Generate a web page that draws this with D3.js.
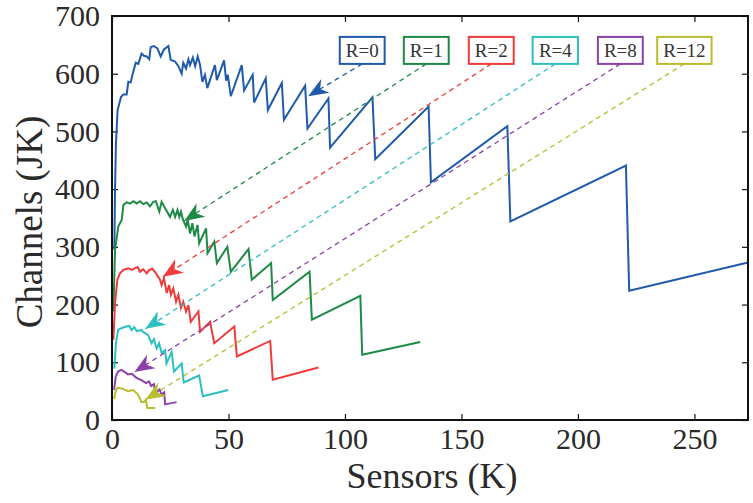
<!DOCTYPE html>
<html>
<head>
<meta charset="utf-8">
<script src="https://cdn.jsdelivr.net/npm/d3@7"></script>
<style>
  body { margin: 0; background: #fff; }
  svg { display: block; }
  .tick text { font-family: "Liberation Serif", serif; }
</style>
</head>
<body>
<script>
// 数据：每条曲线的 x (K) 与 y (JK)
var blueX = [1.0,1.3,1.7,2.4,3.9,4.9,6.3,7.0,8.0,8.9,10.2,11.3,12.7,13.7,14.9,16.0,16.6,18.0,19.5,20.9,22.3,24.2,25.2,27.1,28.5,29.9,30.6,31.8,32.8,33.5,34.7,35.7,36.8,37.8,38.8,39.9,40.9,44.2,45.0,48.1,49.0,49.7,51.0,55.7,56.7,60.4,61.0,66.0,66.9,72.9,73.8,82.9,83.9,92.9,93.6,111.8,113.0,135.9,136.9,169.7,171.0,220.6,222.0,273];
var blueY = [295,400,480,537,560,564,564,586,585,600,619,617,635,631,630,625,646,648,644,630,642,648,624,621,613,600,619,609,625,615,628,613,630,615,586,598,575,615,589,623,588,598,561,615,571,598,550,592,537,584,520,579,505,557,472,559,452,543,412,509,344,441,224,273];
var greenX = [0.6,1.3,2.7,4.2,4.9,6.3,7.7,9.2,10.6,12,13.5,14.9,16.3,17.7,18.8,20.3,21.3,22.8,24.9,26.1,27.1,28.1,28.9,29.6,30.4,31.8,32.5,33.5,34.5,35.4,36.7,37.4,40.4,41,43.9,45,49.5,51,58.6,60,68.3,69,84.8,85.8,106.6,107.4,132.3];
var greenY = [188,295,335,347,373,377,375,379,375,379,374,377,370,378,379,361,378,367,352,364,352,364,352,361,348,335,347,323,341,318,338,306,332,289,309,272,300,257,296,243,272,208,257,174,215,113,135];
var redX = [0.6,1.3,2.3,3.4,4.9,7,8.5,9.9,11,12,13.4,14.9,16,17.3,18.9,20.6,21.3,22.3,23.5,24.5,25.3,26.3,27.5,28.5,29.6,30.6,31.8,32.8,33.8,37.1,37.8,42.1,43.9,52.5,53.6,67.9,69,88.6];
var redY = [139,202,243,254,260,263,260,263,265,257,261,254,260,262,254,243,234,246,220,234,217,228,205,217,194,205,188,199,170,188,153,170,133,162,110,137,70,91];
var cyanX = [1.0,1.7,2.6,4.0,6.1,7.4,8.4,9.5,10.6,12.6,13.2,15.5,17,18,19.2,20.2,21.3,22.8,23.4,25.6,26.6,29.9,30.8,37.4,39.0,49.9];
var cyanY = [89,133,156,159,162,163,156,161,154,156,153,147,133,140,124,133,116,121,98,118,84,98,65,77,41,52];
var purpleX = [0.9,1.6,2.6,4.0,5.5,6.9,8.5,10.5,12.6,14.7,15.9,16.8,18.0,18.6,20.4,21.3,22.4,22.8,27.7];
var purpleY = [52,75,84,87,83,79,80,73,69,64,67,59,62,46,53,44,48,27,31];
var yellowX = [0.9,1.6,2.4,4.7,6.9,9.0,11.2,12.6,13.7,14.5,15.2,18.6];
var yellowY = [36,50,56,54,50,52,44,31,31,35,21,21];

var seriesNames = ["R=0","R=1","R=2","R=4","R=8","R=12"];
var seriesColors = ["#1f5aab","#1d8a45","#ef3b3b","#2ebfbf","#8b42a8","#b7bd2e"];
// 注释箭头：起点 (图例框下方) 与箭头尖端，数据坐标
var arrowStartX = [107.4,134.9,162.8,190.3,218.2,245.7];
var arrowStartY = [617,617,617,617,617,617];
var arrowTipX = [84.2,31.0,21.8,14.3,9.6,14.3];
var arrowTipY = [561,345,248,158,83,35];

var xTicks = [0,50,100,150,200,250];
var yTicks = [0,100,200,300,400,500,600,700];

var W = 753, H = 503;
var padding = {top: 16, right: 5, bottom: 83, left: 112};

var svg = d3.select("body").append("svg").attr("width", W).attr("height", H);

var x = d3.scaleLinear().domain([0, 273]).range([padding.left, W - padding.right]);
var y = d3.scaleLinear().domain([0, 700]).range([H - padding.bottom, padding.top]);

var allX = [blueX, greenX, redX, cyanX, purpleX, yellowX];
var allY = [blueY, greenY, redY, cyanY, purpleY, yellowY];

// 坐标轴（刻度朝内）
var fontTick = "30px";
var gx = svg.append("g").attr("transform", "translate(0," + y(0) + ")")
    .call(d3.axisBottom(x).tickValues(xTicks).tickSize(-6).tickPadding(8).tickFormat(d3.format("d")));
var gxTop = svg.append("g").attr("transform", "translate(0," + y(700) + ")")
    .call(d3.axisTop(x).tickValues(xTicks).tickSize(-6).tickFormat(""));
var gy = svg.append("g").attr("transform", "translate(" + x(0) + ",0)")
    .call(d3.axisLeft(y).tickValues(yTicks).tickSize(-6).tickPadding(12).tickFormat(d3.format("d")));
var gyRight = svg.append("g").attr("transform", "translate(" + x(273) + ",0)")
    .call(d3.axisRight(y).tickValues(yTicks).tickSize(-6).tickFormat(""));

[gx, gxTop, gy, gyRight].forEach(function (g) {
    g.select(".domain").remove();
    g.selectAll(".tick line").attr("stroke", "#111").attr("stroke-width", 1.2);
    g.selectAll(".tick text").attr("fill", "#2a2a2a").style("font-size", fontTick);
});

// 曲线
var line = d3.line()
    .x(function (d) { return x(d[0]); })
    .y(function (d) { return y(d[1]); })
    .curve(d3.curveLinear);

for (let i = 0; i < allX.length; i++) {
    var pts = allX[i].map(function (v, j) { return [v, allY[i][j]]; });
    svg.append("path").attr("d", line(pts))
        .attr("fill", "none").attr("stroke", seriesColors[i])
        .attr("stroke-width", 2).attr("stroke-linejoin", "miter");
}

// 外框
svg.append("rect")
    .attr("x", x(0)).attr("y", y(700))
    .attr("width", x(273) - x(0)).attr("height", y(0) - y(700))
    .attr("fill", "none").attr("stroke", "#111").attr("stroke-width", 2);

// 注释：虚线 + 箭头 + 标签框
for (let i = 0; i < seriesNames.length; i++) {
    var sx = x(arrowStartX[i]), sy = y(arrowStartY[i]);
    var tx = x(arrowTipX[i]), ty = y(arrowTipY[i]);
    var ang = Math.atan2(ty - sy, tx - sx) * 180 / Math.PI;
    var c = seriesColors[i];

    svg.append("line")
        .attr("x1", sx).attr("y1", sy).attr("x2", tx).attr("y2", ty)
        .attr("stroke", c).attr("stroke-width", 1.3)
        .attr("stroke-dasharray", "5,4");

    svg.append("polygon")
        .attr("points", "0,0 -20,-8 -14,0 -20,8")
        .attr("transform", "translate(" + tx + "," + ty + ") rotate(" + ang + ")")
        .attr("fill", c);

    var g = svg.append("g");
    var box = g.append("rect");
    var t = g.append("text")
        .attr("x", sx).attr("y", sy - 7)
        .attr("text-anchor", "middle")
        .style("font-family", "Liberation Serif, serif")
        .style("font-size", "19px")
        .attr("fill", "#333")
        .text(seriesNames[i]);
    var bb = t.node().getBBox();
    box.attr("x", sx - bb.width / 2 - 6).attr("y", sy - 27)
        .attr("width", bb.width + 12).attr("height", 27)
        .attr("fill", "#fff").attr("stroke", c).attr("stroke-width", 2);
}

// 轴标题
svg.append("text")
    .attr("x", (x(0) + x(273)) / 2 + 2).attr("y", 488)
    .attr("text-anchor", "middle")
    .style("font-family", "Liberation Serif, serif").style("font-size", "36px")
    .attr("fill", "#2a2a2a")
    .text("Sensors (K)");

svg.append("text")
    .attr("transform", "translate(42," + 222 + ") rotate(-90)")
    .attr("text-anchor", "middle")
    .style("font-family", "Liberation Serif, serif").style("font-size", "37px")
    .attr("fill", "#2a2a2a")
    .text("Channels (JK)");
</script>
</body>
</html>
